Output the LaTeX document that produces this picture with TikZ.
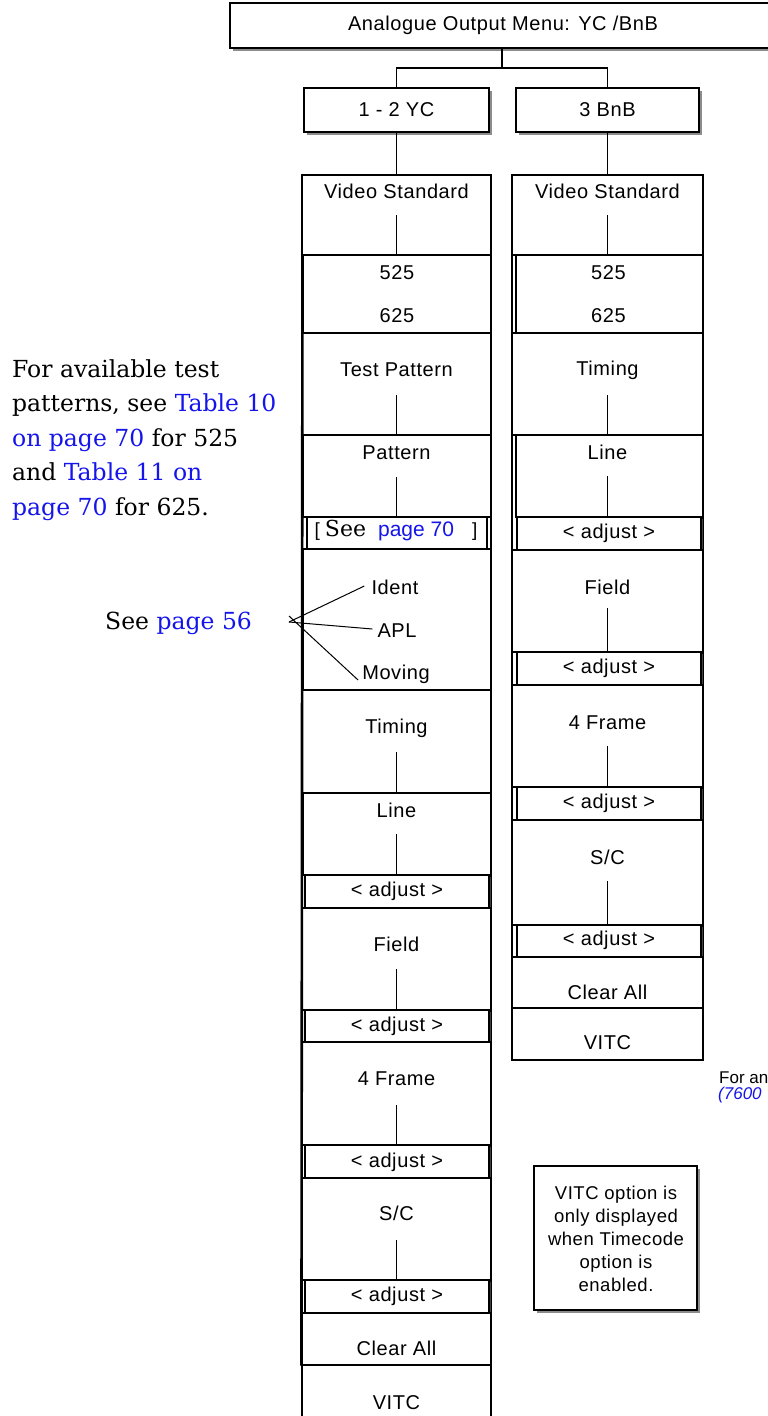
\documentclass[tikz,border=0pt]{standalone}
\usepackage{fontspec}
\newfontfamily\diag[LetterSpace=3]{Liberation Sans}
\newfontfamily\diagplain{Liberation Sans}
\newfontfamily\sidefont{DejaVu Serif}
\usetikzlibrary{fit,shadows}
\definecolor{linkblue}{RGB}{20,20,235}
\definecolor{shadowgray}{RGB}{140,140,140}
\begin{document}
\begin{tikzpicture}[x=1pt,y=-1pt,
  box/.style={draw, line width=1.1pt, fill=white, inner sep=0pt},
  sbox/.style={box, drop shadow={shadow xshift=3pt, shadow yshift=-3pt, fill=shadowgray, opacity=1}},
  abox/.style={box, drop shadow={shadow xshift=2pt, shadow yshift=-2pt, fill=black!75, opacity=1}},
  lbl/.style={font=\diag\fontsize{20}{22}\selectfont, inner sep=0pt},
  wire/.style={line width=1.1pt},
  fan/.style={line width=1pt},
  note/.style={font=\sidefont\fontsize{23.5}{34.5}\selectfont, inner sep=0pt},
  lnk/.style={text=linkblue}
]
\useasboundingbox (0,0) rectangle (768,1416);
\fill[white] (0,0) rectangle (768,1416);
\begin{scope}
\clip (0,0) rectangle (768,1416);

% ---------- top of tree ----------
\node[sbox, fit={(230,3)(770,48)}] (top) {};
\node[lbl] (topT) at (503,25) {Analogue Output Menu: YC /BnB};
\node[sbox, fit={(304,88)(489,132)}] (yc) {};
\node[lbl] (ycT) at (396.5,110) {1 - 2 YC};
\node[sbox, fit={(516,88)(699,132)}] (bnb) {};
\node[lbl] (bnbT) at (607.5,110) {3 BnB};
\coordinate (split) at (502,68);
\draw[wire] (top.south -| split) -- (split);
\draw[wire] (yc.north) |- (split) -| (bnb.north);

% ---------- left column ----------
\node[box, fit={(302,175)(491,1430)}] (lcol) {};
\node[box, fit={(302,175)(491,255)}] (lvs) {};
\node[box, fit={(303,255)(491,333)}] (l525) {};
\node[box, fit={(302,333)(491,435)}] (ltp) {};
\node[box, fit={(303,435)(491,517)}] (lpat) {};
\node[box, fit={(307,517)(487,549)}] (lsee) {};
\node[box, fit={(303,549)(491,690)}] (lopt) {};
\node[box, fit={(302,690)(491,793)}] (ltim) {};
\node[box, fit={(303,793)(491,875)}] (lline) {};
\node[abox, fit={(305,875)(489,908)}] (ladj1) {};
\node[box, fit={(302,908)(491,1010)}] (lfield) {};
\node[abox, fit={(305,1010)(489,1042)}] (ladj2) {};
\node[box, fit={(302,1042)(491,1145)}] (lfr) {};
\node[abox, fit={(305,1145)(489,1178)}] (ladj3) {};
\node[box, fit={(302,1178)(491,1280)}] (lsc) {};
\node[abox, fit={(305,1280)(489,1313)}] (ladj4) {};
\node[box, fit={(302,1313)(491,1365)}] (lclr) {};
\node[box, fit={(302,1365)(491,1430)}] (lvitc) {};
\draw[line width=2.6pt] (l525.north west) -- (lclr.south west);
\draw[wire] (yc.south) -- (lvs.north);

\node[lbl] (lvsT) at (396.5,191) {Video Standard};
\node[lbl] (l525T) at (397,273) {525};
\node[lbl] (l625T) at (397,316) {625};
\node[lbl] (ltpT) at (396.5,370) {Test Pattern};
\node[lbl] (lpatT) at (396.5,453) {Pattern};
\node[inner sep=0pt] (lseeT) at (396,531) {{\diagplain\fontsize{19}{20}\selectfont[}\hspace{5pt}{\sidefont\fontsize{22}{22}\selectfont See}\hspace{12pt}{\diagplain\fontsize{21}{22}\selectfont\color{linkblue}page 70}\hspace{18pt}{\diagplain\fontsize{19}{20}\selectfont]}};
\node[lbl] (identT) at (395,587) {Ident};
\node[lbl] (aplT) at (397,631) {APL};
\node[lbl] (movT) at (396,674) {Moving};
\node[lbl] (ltimT) at (396.5,728) {Timing};
\node[lbl] (llineT) at (396.5,810) {Line};
\node[lbl] (ladj1T) at (397,891) {< adjust >};
\node[lbl] (lfieldT) at (396.5,944) {Field};
\node[lbl] (ladj2T) at (397,1026) {< adjust >};
\node[lbl] (lfrT) at (396.5,1079) {4 Frame};
\node[lbl] (ladj3T) at (397,1162) {< adjust >};
\node[lbl] (lscT) at (396.5,1213) {S/C};
\node[lbl] (ladj4T) at (397,1296) {< adjust >};
\node[lbl] (lclrT) at (396.5,1348) {Clear All};
\node[lbl] (lvitcT) at (396.5,1403) {VITC};

\draw[wire] (lvsT) ++(0,24) -- (lvsT |- lvs.south);
\draw[wire] (ltpT) ++(0,25) -- (ltpT |- ltp.south);
\draw[wire] (lpatT) ++(0,24) -- (lpatT |- lpat.south);
\draw[wire] (ltimT) ++(0,24) -- (ltimT |- ltim.south);
\draw[wire] (llineT) ++(0,24) -- (llineT |- lline.south);
\draw[wire] (lfieldT) ++(0,25) -- (lfieldT |- lfield.south);
\draw[wire] (lfrT) ++(0,26) -- (lfrT |- lfr.south);
\draw[wire] (lscT) ++(0,27) -- (lscT |- lsc.south);

% ---------- right column ----------
\node[box, fit={(512,175)(703,1060)}] (rcol) {};
\node[box, fit={(512,175)(703,255)}] (rvs) {};
\node[box, fit={(516,255)(703,333)}] (r525) {};
\node[box, fit={(512,333)(703,435)}] (rtim) {};
\node[box, fit={(516,435)(703,517)}] (rline) {};
\node[abox, fit={(517,517)(701,550)}] (radj1) {};
\node[box, fit={(512,550)(703,652)}] (rfield) {};
\node[abox, fit={(517,652)(701,685)}] (radj2) {};
\node[box, fit={(512,685)(703,787)}] (rfr) {};
\node[abox, fit={(517,787)(701,820)}] (radj3) {};
\node[box, fit={(512,820)(703,925)}] (rsc) {};
\node[abox, fit={(517,925)(701,957)}] (radj4) {};
\node[box, fit={(512,957)(703,1008)}] (rclr) {};
\node[box, fit={(512,1008)(703,1060)}] (rvitc) {};
\draw[wire] (bnb.south) -- (rvs.north);

\node[lbl] (rvsT) at (607.5,191) {Video Standard};
\node[lbl] (r525T) at (608.5,273) {525};
\node[lbl] (r625T) at (608.5,316) {625};
\node[lbl] (rtimT) at (607.5,370) {Timing};
\node[lbl] (rlineT) at (607.5,452) {Line};
\node[lbl] (radj1T) at (609,533) {< adjust >};
\node[lbl] (rfieldT) at (607.5,587) {Field};
\node[lbl] (radj2T) at (609,668) {< adjust >};
\node[lbl] (rfrT) at (607.5,723) {4 Frame};
\node[lbl] (radj3T) at (609,803) {< adjust >};
\node[lbl] (rscT) at (607.5,857) {S/C};
\node[lbl] (radj4T) at (609,940) {< adjust >};
\node[lbl] (rclrT) at (607.5,992) {Clear All};
\node[lbl] (rvitcT) at (607.5,1043) {VITC};

\draw[wire] (rvsT) ++(0,24) -- (rvsT |- rvs.south);
\draw[wire] (rtimT) ++(0,25) -- (rtimT |- rtim.south);
\draw[wire] (rlineT) ++(0,24) -- (rlineT |- rline.south);
\draw[wire] (rfieldT) ++(0,21) -- (rfieldT |- rfield.south);
\draw[wire] (rfrT) ++(0,23) -- (rfrT |- rfr.south);
\draw[wire] (rscT) ++(0,24) -- (rscT |- rsc.south);

% ---------- note box ----------
\node[sbox, fit={(534,1166)(697,1310)}] (notebox) {};
\node[inner sep=0pt, align=center, font=\diag\fontsize{18.5}{23}\selectfont] (noteT) at (616,1239)
  {VITC option is\\only displayed\\when Timecode\\option is\\enabled.};

% ---------- side notes ----------
\node[note, align=left, anchor=north west] (tpnote) at (12,359)
  {For available test\\
   patterns, see \textcolor{linkblue}{Table 10}\\
   \textcolor{linkblue}{on page 70} for 525\\
   and \textcolor{linkblue}{Table 11 on}\\
   \textcolor{linkblue}{page 70} for 625.};
\node[note, anchor=base west] (see56) at (105,629) {See \textcolor{linkblue}{page 56}};
\coordinate (fanpt) at (289,622);
\draw[fan] (fanpt) -- ([xshift=-7pt,yshift=1pt]identT.west);
\draw[fan] (fanpt) -- ([xshift=-5pt,yshift=2pt]aplT.west);
\draw[fan] ([yshift=6pt]fanpt) -- ([xshift=-4pt,yshift=-6pt]movT.west);

\node[inner sep=0pt, anchor=west, font=\diagplain\fontsize{17}{18}\selectfont] (foran) at (719,1078) {For an};
\node[inner sep=0pt, anchor=west, font=\diagplain\itshape\fontsize{17}{18}\selectfont, text=linkblue] (ref7600) at (718,1095) {(7600};
\end{scope}
\end{tikzpicture}
\end{document}
